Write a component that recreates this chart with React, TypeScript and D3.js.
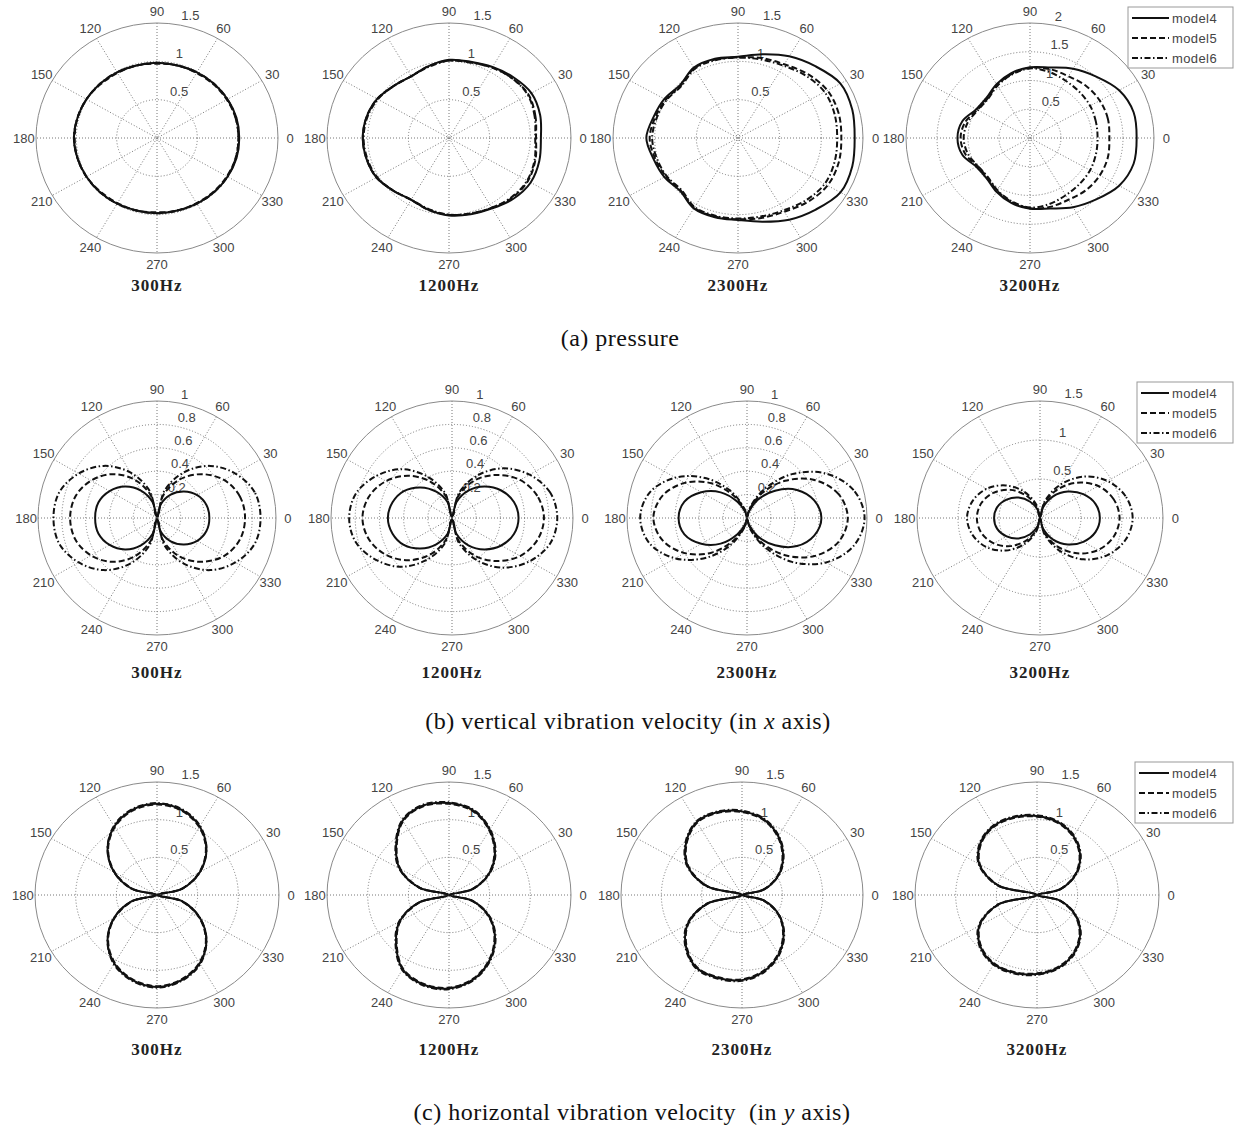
import React from 'react';
import * as d3 from 'd3';

// polar sample angles (degrees)
const ANGLES = [0, 15, 30, 45, 60, 75, 90, 105, 120, 135, 150, 165, 180, 195, 210, 225, 240, 255, 270, 285, 300, 315, 330, 345];

const FREQS = ['300Hz', '1200Hz', '2300Hz', '3200Hz'];
const MODELS = ['model4', 'model5', 'model6'];

// (a) pressure
const pA300m4 = [1.02, 1.02, 1.01, 1.0, 0.99, 0.98, 0.98, 0.98, 0.99, 1.0, 1.01, 1.02, 1.03, 1.02, 1.01, 1.0, 0.99, 0.98, 0.98, 0.98, 0.99, 1.0, 1.01, 1.02];
const pA300m5 = [1.01, 1.01, 1.0, 0.99, 0.98, 0.98, 0.97, 0.98, 0.98, 0.99, 1.01, 1.02, 1.02, 1.02, 1.01, 0.99, 0.98, 0.98, 0.97, 0.98, 0.98, 0.99, 1.0, 1.01];
const pA300m6 = [1.01, 1.01, 1.01, 1.0, 0.99, 0.98, 0.98, 0.98, 0.99, 1.0, 1.01, 1.02, 1.03, 1.02, 1.01, 1.0, 0.99, 0.98, 0.98, 0.98, 0.99, 1.0, 1.01, 1.01];

const pA1200m4 = [1.13, 1.16, 1.17, 1.12, 1.07, 1.03, 1.02, 0.97, 0.93, 0.96, 1.02, 1.05, 1.06, 1.05, 1.03, 0.97, 0.93, 0.97, 1.01, 1.03, 1.06, 1.12, 1.16, 1.15];
const pA1200m5 = [1.07, 1.1, 1.13, 1.1, 1.06, 1.02, 1.01, 0.97, 0.93, 0.96, 1.02, 1.05, 1.06, 1.05, 1.03, 0.97, 0.93, 0.97, 1.0, 1.02, 1.05, 1.1, 1.12, 1.1];
const pA1200m6 = [1.06, 1.09, 1.12, 1.1, 1.06, 1.02, 1.01, 0.96, 0.93, 0.96, 1.01, 1.04, 1.05, 1.04, 1.02, 0.97, 0.93, 0.96, 1.0, 1.02, 1.05, 1.09, 1.11, 1.09];

const pA2300m4 = [1.4, 1.42, 1.42, 1.32, 1.23, 1.13, 1.06, 1.07, 1.06, 0.98, 1.02, 1.05, 1.1, 1.05, 1.02, 0.98, 1.06, 1.07, 1.07, 1.13, 1.23, 1.32, 1.42, 1.42];
const pA2300m5 = [1.24, 1.25, 1.24, 1.18, 1.11, 1.08, 1.05, 1.06, 1.05, 0.97, 1.0, 1.03, 1.06, 1.03, 1.0, 0.97, 1.05, 1.06, 1.06, 1.08, 1.11, 1.18, 1.24, 1.25];
const pA2300m6 = [1.19, 1.2, 1.2, 1.15, 1.09, 1.06, 1.05, 1.05, 1.04, 0.96, 0.99, 1.01, 1.03, 1.01, 0.99, 0.96, 1.04, 1.05, 1.05, 1.06, 1.09, 1.15, 1.2, 1.2];

const pA3200m4 = [1.72, 1.73, 1.66, 1.51, 1.39, 1.27, 1.23, 1.17, 1.08, 0.99, 1.0, 1.13, 1.17, 1.13, 1.0, 0.99, 1.08, 1.17, 1.23, 1.27, 1.39, 1.51, 1.66, 1.73];
const pA3200m5 = [1.28, 1.3, 1.3, 1.28, 1.24, 1.24, 1.22, 1.15, 1.06, 0.97, 0.98, 1.08, 1.12, 1.08, 0.98, 0.97, 1.06, 1.15, 1.22, 1.24, 1.24, 1.28, 1.3, 1.3];
const pA3200m6 = [1.09, 1.1, 1.12, 1.13, 1.15, 1.19, 1.21, 1.14, 1.05, 0.96, 0.97, 1.04, 1.07, 1.04, 0.97, 0.96, 1.05, 1.14, 1.21, 1.19, 1.15, 1.13, 1.12, 1.1];

// (b) vertical vibration velocity
const vB300m4 = [0.44, 0.43, 0.39, 0.32, 0.23, 0.12, 0.01, 0.14, 0.27, 0.38, 0.46, 0.51, 0.52, 0.51, 0.46, 0.38, 0.27, 0.14, 0.01, 0.12, 0.23, 0.32, 0.39, 0.43];
const vB300m5 = [0.74, 0.72, 0.65, 0.53, 0.38, 0.2, 0.01, 0.2, 0.38, 0.53, 0.64, 0.71, 0.73, 0.71, 0.64, 0.53, 0.38, 0.2, 0.01, 0.2, 0.38, 0.53, 0.65, 0.72];
const vB300m6 = [0.87, 0.85, 0.76, 0.63, 0.45, 0.24, 0.01, 0.24, 0.45, 0.63, 0.76, 0.85, 0.87, 0.85, 0.76, 0.63, 0.45, 0.24, 0.01, 0.24, 0.45, 0.63, 0.76, 0.85];

const vB1200m4 = [0.55, 0.53, 0.47, 0.38, 0.27, 0.14, 0.01, 0.14, 0.26, 0.37, 0.46, 0.51, 0.53, 0.51, 0.46, 0.37, 0.26, 0.14, 0.01, 0.14, 0.27, 0.38, 0.47, 0.53];
const vB1200m5 = [0.76, 0.73, 0.65, 0.52, 0.37, 0.19, 0.01, 0.19, 0.36, 0.51, 0.63, 0.71, 0.74, 0.71, 0.63, 0.51, 0.36, 0.19, 0.01, 0.19, 0.37, 0.52, 0.65, 0.73];
const vB1200m6 = [0.87, 0.84, 0.74, 0.6, 0.42, 0.22, 0.01, 0.22, 0.41, 0.59, 0.72, 0.82, 0.85, 0.82, 0.72, 0.59, 0.41, 0.22, 0.01, 0.22, 0.42, 0.6, 0.74, 0.84];

const vB2300m4 = [0.62, 0.58, 0.48, 0.33, 0.18, 0.05, 0.01, 0.05, 0.16, 0.31, 0.44, 0.54, 0.57, 0.54, 0.44, 0.31, 0.16, 0.05, 0.01, 0.05, 0.18, 0.33, 0.48, 0.58];
const vB2300m5 = [0.84, 0.79, 0.65, 0.45, 0.24, 0.07, 0.01, 0.07, 0.22, 0.42, 0.6, 0.73, 0.78, 0.73, 0.6, 0.42, 0.22, 0.07, 0.01, 0.07, 0.24, 0.45, 0.65, 0.79];
const vB2300m6 = [0.98, 0.92, 0.76, 0.53, 0.28, 0.09, 0.01, 0.08, 0.26, 0.48, 0.69, 0.84, 0.89, 0.84, 0.69, 0.48, 0.26, 0.08, 0.01, 0.09, 0.28, 0.53, 0.76, 0.92];

const vB3200m4 = [0.73, 0.7, 0.61, 0.48, 0.32, 0.14, 0.01, 0.11, 0.24, 0.37, 0.47, 0.54, 0.56, 0.54, 0.47, 0.37, 0.24, 0.11, 0.01, 0.14, 0.32, 0.48, 0.61, 0.7];
const vB3200m5 = [0.97, 0.93, 0.82, 0.64, 0.42, 0.19, 0.01, 0.15, 0.33, 0.51, 0.65, 0.74, 0.77, 0.74, 0.65, 0.51, 0.33, 0.15, 0.01, 0.19, 0.42, 0.64, 0.82, 0.93];
const vB3200m6 = [1.13, 1.08, 0.95, 0.75, 0.49, 0.22, 0.01, 0.18, 0.39, 0.59, 0.75, 0.85, 0.89, 0.85, 0.75, 0.59, 0.39, 0.18, 0.01, 0.22, 0.49, 0.75, 0.95, 1.08];

// (c) horizontal vibration velocity
const hC300m4 = [0.01, 0.32, 0.61, 0.86, 1.05, 1.17, 1.21, 1.17, 1.05, 0.86, 0.61, 0.32, 0.01, 0.32, 0.61, 0.86, 1.05, 1.17, 1.22, 1.17, 1.05, 0.86, 0.61, 0.32];
const hC300m5 = [0.01, 0.31, 0.6, 0.85, 1.04, 1.16, 1.2, 1.16, 1.04, 0.85, 0.6, 0.31, 0.01, 0.31, 0.6, 0.85, 1.04, 1.16, 1.21, 1.16, 1.04, 0.85, 0.6, 0.31];
const hC300m6 = [0.01, 0.32, 0.61, 0.86, 1.06, 1.18, 1.22, 1.18, 1.06, 0.86, 0.61, 0.32, 0.01, 0.32, 0.61, 0.86, 1.06, 1.18, 1.23, 1.18, 1.06, 0.86, 0.61, 0.32];

const hC1200m4 = [0.01, 0.3, 0.57, 0.8, 1.0, 1.16, 1.22, 1.23, 1.14, 0.92, 0.7, 0.38, 0.01, 0.38, 0.7, 0.92, 1.14, 1.23, 1.24, 1.16, 1.0, 0.8, 0.57, 0.3];
const hC1200m5 = [0.01, 0.29, 0.56, 0.79, 0.99, 1.15, 1.21, 1.22, 1.13, 0.91, 0.69, 0.37, 0.01, 0.37, 0.69, 0.91, 1.13, 1.22, 1.23, 1.15, 0.99, 0.79, 0.56, 0.29];
const hC1200m6 = [0.01, 0.3, 0.58, 0.81, 1.01, 1.17, 1.23, 1.24, 1.15, 0.93, 0.71, 0.38, 0.01, 0.38, 0.71, 0.93, 1.15, 1.24, 1.25, 1.17, 1.01, 0.81, 0.58, 0.3];

const hC2300m4 = [0.01, 0.28, 0.52, 0.72, 0.9, 1.04, 1.11, 1.14, 1.12, 0.98, 0.78, 0.45, 0.01, 0.45, 0.78, 0.98, 1.12, 1.14, 1.13, 1.05, 0.91, 0.73, 0.53, 0.28];
const hC2300m5 = [0.01, 0.27, 0.51, 0.71, 0.89, 1.03, 1.1, 1.13, 1.11, 0.97, 0.77, 0.44, 0.01, 0.44, 0.77, 0.97, 1.11, 1.13, 1.12, 1.04, 0.9, 0.72, 0.52, 0.27];
const hC2300m6 = [0.01, 0.28, 0.53, 0.73, 0.91, 1.05, 1.12, 1.15, 1.13, 0.99, 0.79, 0.46, 0.01, 0.46, 0.79, 0.99, 1.13, 1.15, 1.14, 1.06, 0.92, 0.74, 0.53, 0.28];

const hC3200m4 = [0.01, 0.3, 0.55, 0.75, 0.9, 1.0, 1.05, 1.07, 1.06, 0.98, 0.82, 0.5, 0.01, 0.5, 0.82, 0.98, 1.06, 1.07, 1.05, 1.0, 0.9, 0.75, 0.55, 0.3];
const hC3200m5 = [0.01, 0.29, 0.54, 0.74, 0.89, 0.99, 1.04, 1.06, 1.05, 0.97, 0.81, 0.49, 0.01, 0.49, 0.81, 0.97, 1.05, 1.06, 1.04, 0.99, 0.89, 0.74, 0.54, 0.29];
const hC3200m6 = [0.01, 0.3, 0.56, 0.76, 0.91, 1.01, 1.06, 1.08, 1.07, 0.99, 0.83, 0.51, 0.01, 0.51, 0.83, 0.99, 1.07, 1.08, 1.06, 1.01, 0.91, 0.76, 0.56, 0.3];

// radial tick values
const TICKS_15 = [0.5, 1, 1.5];
const TICKS_2 = [0.5, 1, 1.5, 2];
const TICKS_1 = [0.2, 0.4, 0.6, 0.8, 1];

const ANGLE_LABELS = [0, 30, 60, 90, 120, 150, 180, 210, 240, 270, 300, 330];

const STYLES = [
  { dash: 'none' },
  { dash: '6,3' },
  { dash: '6,2.5,1.5,2.5' },
];

const ROWS = [
  {
    cy: 138, ry: 115, cxs: [157, 449, 738, 1030], rxs: [121, 122, 125, 124],
    rmax: [1.5, 1.5, 1.5, 2], ticks: [TICKS_15, TICKS_15, TICKS_15, TICKS_2],
    series: [[pA300m4, pA300m5, pA300m6], [pA1200m4, pA1200m5, pA1200m6], [pA2300m4, pA2300m5, pA2300m6], [pA3200m4, pA3200m5, pA3200m6]],
    titleY: 291, legendX: 1128, legendY: 7,
  },
  {
    cy: 518, ry: 117, cxs: [157, 452, 747, 1040], rxs: [119, 121, 120, 123],
    rmax: [1, 1, 1, 1.5], ticks: [TICKS_1, TICKS_1, TICKS_1, TICKS_15],
    series: [[vB300m4, vB300m5, vB300m6], [vB1200m4, vB1200m5, vB1200m6], [vB2300m4, vB2300m5, vB2300m6], [vB3200m4, vB3200m5, vB3200m6]],
    titleY: 678, legendX: 1137, legendY: 382,
  },
  {
    cy: 895, ry: 113, cxs: [157, 449, 742, 1037], rxs: [122, 122, 121, 122],
    rmax: [1.5, 1.5, 1.5, 1.5], ticks: [TICKS_15, TICKS_15, TICKS_15, TICKS_15],
    series: [[hC300m4, hC300m5, hC300m6], [hC1200m4, hC1200m5, hC1200m6], [hC2300m4, hC2300m5, hC2300m6], [hC3200m4, hC3200m5, hC3200m6]],
    titleY: 1055, legendX: 1135, legendY: 762,
  },
];

const rad = (a: number) => (a * Math.PI) / 180;
const SANS = "'Liberation Sans', Arial, sans-serif";
const SERIF = "'Liberation Serif', 'Times New Roman', serif";

function Polar({ cx, cy, rx, ry, rmax, ticks, series, title, titleY }: any) {
  const sx = d3.scaleLinear().domain([0, rmax]).range([0, rx]);
  const sy = d3.scaleLinear().domain([0, rmax]).range([0, ry]);
  const px = (a: number, r: number) => cx + sx(r) * Math.cos(rad(a));
  const py = (a: number, r: number) => cy - sy(r) * Math.sin(rad(a));
  const line = d3.line<[number, number]>()
    .x(d => px(d[0], d[1]))
    .y(d => py(d[0], d[1]))
    .curve(d3.curveCatmullRomClosed.alpha(0.5));
  const rinc = ticks[1] - ticks[0];
  const inner = ticks.slice(0, -1);

  return (
    <g>
      {inner.map((t: number) => (
        <ellipse key={'r' + t} cx={cx} cy={cy} rx={sx(t)} ry={sy(t)} fill="none"
          stroke="#777" strokeWidth={1} strokeDasharray="1,2" />
      ))}
      {[0, 30, 60, 90, 120, 150].map(a => (
        <line key={'s' + a} x1={px(a, rmax)} y1={py(a, rmax)} x2={px(a + 180, rmax)} y2={py(a + 180, rmax)}
          stroke="#777" strokeWidth={1} strokeDasharray="1,2" />
      ))}
      <ellipse cx={cx} cy={cy} rx={rx} ry={ry} fill="none" stroke="#8a8a8a" strokeWidth={1} />
      {ANGLE_LABELS.map(a => (
        <text key={'a' + a} x={px(a, rmax * 1.1)} y={py(a, rmax * 1.1)} textAnchor="middle"
          dominantBaseline="central" fontSize={13} fill="#444" fontFamily={SANS}>{a}</text>
      ))}
      {ticks.map((t: number) => (
        <text key={'t' + t} x={px(82, t + rinc / 20)} y={py(82, t + rinc / 20) - 2} textAnchor="start"
          fontSize={13} fill="#444" style={{ whiteSpace: 'pre' }} fontFamily={SANS}>{'  ' + t}</text>
      ))}
      {series.map((vals: number[], i: number) => (
        <path key={'c' + i} d={line(ANGLES.map((a, k) => [a, vals[k]] as [number, number])) || ''}
          fill="none" stroke="#111" strokeWidth={2} strokeDasharray={STYLES[i].dash} />
      ))}
      <text x={cx} y={titleY} textAnchor="middle" fontSize={17} fontWeight="bold" letterSpacing={1}
        fontFamily={SERIF} fill="#222">{title}</text>
    </g>
  );
}

function Legend({ x, y }: { x: number; y: number }) {
  const w = 1233 - x;
  return (
    <g>
      <rect x={x} y={y} width={w} height={61} fill="#fff" stroke="#999" strokeWidth={1} />
      {MODELS.map((m, i) => (
        <g key={m}>
          <line x1={x + 4} x2={x + w - 64} y1={y + 11 + i * 20} y2={y + 11 + i * 20} stroke="#111" strokeWidth={2}
            strokeDasharray={STYLES[i].dash} />
          <text x={x + w - 61} y={y + 11 + i * 20} dominantBaseline="central" fontSize={13} fill="#444"
            letterSpacing={0.4} fontFamily={SANS}>{m}</text>
        </g>
      ))}
    </g>
  );
}

export default function App() {
  return (
    <div style={{ position: 'absolute', left: 0, top: 0 }}>
      <svg width={1239} height={1130} style={{ display: 'block', background: '#fff' }}>
        {ROWS.map((row, ri) => (
          <g key={ri}>
            {FREQS.map((f, ci) => (
              <Polar key={f} cx={row.cxs[ci]} cy={row.cy} rx={row.rxs[ci]} ry={row.ry} rmax={row.rmax[ci]}
                ticks={row.ticks[ci]} series={row.series[ci]} title={f} titleY={row.titleY} />
            ))}
            <Legend x={row.legendX} y={row.legendY} />
          </g>
        ))}
        <text x={620} y={346} textAnchor="middle" fontSize={24} letterSpacing={0.5} fontFamily={SERIF} fill="#111">(a) pressure</text>
        <text x={628} y={729} textAnchor="middle" fontSize={24} letterSpacing={0.5} fontFamily={SERIF} fill="#111">
          (b) vertical vibration velocity (in <tspan fontStyle="italic">x</tspan> axis)
        </text>
        <text x={632} y={1120} textAnchor="middle" fontSize={24} letterSpacing={0.5} fontFamily={SERIF} fill="#111" style={{ whiteSpace: 'pre' }}>
          {'(c) horizontal vibration velocity  (in '}<tspan fontStyle="italic">y</tspan>{' axis)'}
        </text>
      </svg>
    </div>
  );
}
